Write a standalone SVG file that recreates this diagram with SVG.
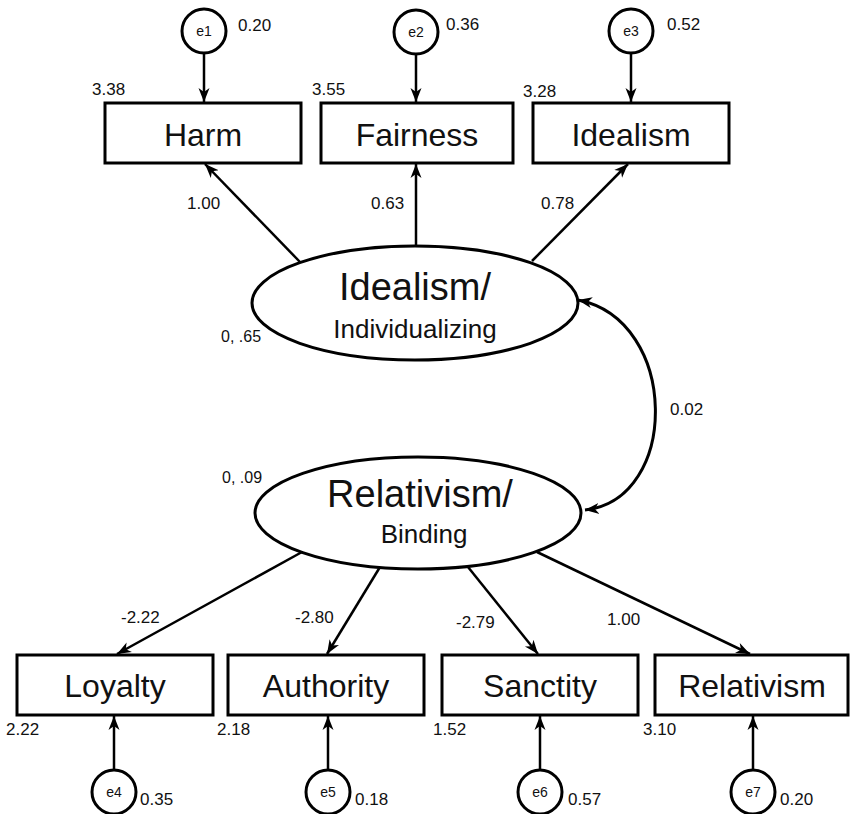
<svg xmlns="http://www.w3.org/2000/svg" width="850" height="814" viewBox="0 0 850 814">
<style>
  text { font-family: "Liberation Sans", Arial, sans-serif; fill: #111; }
  .box { fill: #fff; stroke: #000; stroke-width: 3; }
  .lat { fill: #fff; stroke: #000; stroke-width: 3; }
  .err { fill: #fff; stroke: #000; stroke-width: 3; }
  .blab { font-size: 32px; text-anchor: middle; }
  .lmain { font-size: 38px; text-anchor: middle; }
  .lsub { font-size: 26px; text-anchor: middle; }
  .num { font-size: 17px; }
  .small { font-size: 16px; }
  .elab { font-size: 14px; text-anchor: middle; }
  .conn { fill: none; stroke: #000; stroke-width: 2.5; }
  .curve { fill: none; stroke: #000; stroke-width: 3; }
</style>
<defs>
  <marker id="arr" markerUnits="userSpaceOnUse" markerWidth="16" markerHeight="14" refX="14" refY="7" orient="auto-start-reverse">
    <path d="M0,1.5 L14,7 L0,12.5 L4,7 z" fill="#000"/>
  </marker>
</defs>
<rect width="850" height="814" fill="#fff"/>

<g id="connectors">
  <line class="conn" x1="204" y1="53" x2="204" y2="102" marker-end="url(#arr)"/>
  <line class="conn" x1="416" y1="54" x2="416" y2="102" marker-end="url(#arr)"/>
  <line class="conn" x1="631" y1="53" x2="631" y2="102" marker-end="url(#arr)"/>
  <line class="conn" x1="300" y1="262" x2="205" y2="164" marker-end="url(#arr)"/>
  <line class="conn" x1="416" y1="247" x2="416" y2="164" marker-end="url(#arr)"/>
  <line class="conn" x1="532" y1="261" x2="628" y2="164" marker-end="url(#arr)"/>
  <path class="curve" d="M578,300 C680,320 680,500 585,510" marker-start="url(#arr)" marker-end="url(#arr)"/>
  <line class="conn" x1="302" y1="552" x2="117" y2="654" marker-end="url(#arr)"/>
  <line class="conn" x1="380" y1="567" x2="327" y2="654" marker-end="url(#arr)"/>
  <line class="conn" x1="468" y1="567" x2="538" y2="654" marker-end="url(#arr)"/>
  <line class="conn" x1="537" y1="552" x2="750" y2="654" marker-end="url(#arr)"/>
  <line class="conn" x1="114" y1="770" x2="114" y2="716" marker-end="url(#arr)"/>
  <line class="conn" x1="328" y1="770" x2="328" y2="716" marker-end="url(#arr)"/>
  <line class="conn" x1="540" y1="770" x2="540" y2="716" marker-end="url(#arr)"/>
  <line class="conn" x1="753" y1="770" x2="753" y2="716" marker-end="url(#arr)"/>
</g>

<g id="e1"><circle class="err" cx="204" cy="31" r="22"/><text class="elab" x="204" y="36">e1</text><text class="num" x="238" y="31">0.20</text></g>
<g id="e2"><circle class="err" cx="416" cy="32" r="22"/><text class="elab" x="416" y="37">e2</text><text class="num" x="446" y="30">0.36</text></g>
<g id="e3"><circle class="err" cx="631" cy="31" r="22"/><text class="elab" x="631" y="36">e3</text><text class="num" x="667" y="30">0.52</text></g>

<g id="harm"><rect class="box" x="105" y="103" width="196" height="60"/><text class="blab" x="203" y="146">Harm</text><text class="num" x="92" y="95">3.38</text></g>
<g id="fairness"><rect class="box" x="321" y="103" width="192" height="60"/><text class="blab" x="417" y="146">Fairness</text><text class="num" x="312" y="95">3.55</text></g>
<g id="idealism"><rect class="box" x="533" y="103" width="196" height="60"/><text class="blab" x="631" y="146">Idealism</text><text class="num" x="523" y="97">3.28</text></g>

<g id="loadlabels-top">
  <text class="num" x="187" y="209">1.00</text>
  <text class="num" x="371" y="209">0.63</text>
  <text class="num" x="541" y="209">0.78</text>
</g>

<g id="individualizing"><ellipse class="lat" cx="415" cy="303" rx="163" ry="57"/><text class="lmain" x="415" y="300">Idealism/</text><text class="lsub" x="415" y="338">Individualizing</text><text class="small" x="221" y="342">0, .65</text></g>

<g id="cov"><text class="num" x="670" y="415">0.02</text></g>

<g id="binding"><ellipse class="lat" cx="418" cy="513" rx="163" ry="56"/><text class="lmain" x="420" y="507">Relativism/</text><text class="lsub" x="424" y="543">Binding</text><text class="small" x="222" y="483">0, .09</text></g>

<g id="loadlabels-bottom">
  <text class="num" x="121" y="623">-2.22</text>
  <text class="num" x="295" y="623">-2.80</text>
  <text class="num" x="456" y="628">-2.79</text>
  <text class="num" x="607" y="625">1.00</text>
</g>

<g id="loyalty"><rect class="box" x="17" y="655" width="196" height="60"/><text class="blab" x="115" y="697">Loyalty</text><text class="num" x="6" y="735">2.22</text></g>
<g id="authority"><rect class="box" x="228" y="655" width="196" height="60"/><text class="blab" x="326" y="697">Authority</text><text class="num" x="217" y="735">2.18</text></g>
<g id="sanctity"><rect class="box" x="442" y="655" width="196" height="60"/><text class="blab" x="540" y="697">Sanctity</text><text class="num" x="433" y="735">1.52</text></g>
<g id="relativism"><rect class="box" x="655" y="655" width="193" height="60"/><text class="blab" x="752" y="697">Relativism</text><text class="num" x="643" y="735">3.10</text></g>

<g id="e4"><circle class="err" cx="114" cy="792" r="22"/><text class="elab" x="114" y="797">e4</text><text class="num" x="140" y="805">0.35</text></g>
<g id="e5"><circle class="err" cx="328" cy="792" r="22"/><text class="elab" x="328" y="797">e5</text><text class="num" x="355" y="805">0.18</text></g>
<g id="e6"><circle class="err" cx="540" cy="792" r="22"/><text class="elab" x="540" y="797">e6</text><text class="num" x="568" y="805">0.57</text></g>
<g id="e7"><circle class="err" cx="753" cy="792" r="22"/><text class="elab" x="753" y="797">e7</text><text class="num" x="780" y="805">0.20</text></g>
</svg>
